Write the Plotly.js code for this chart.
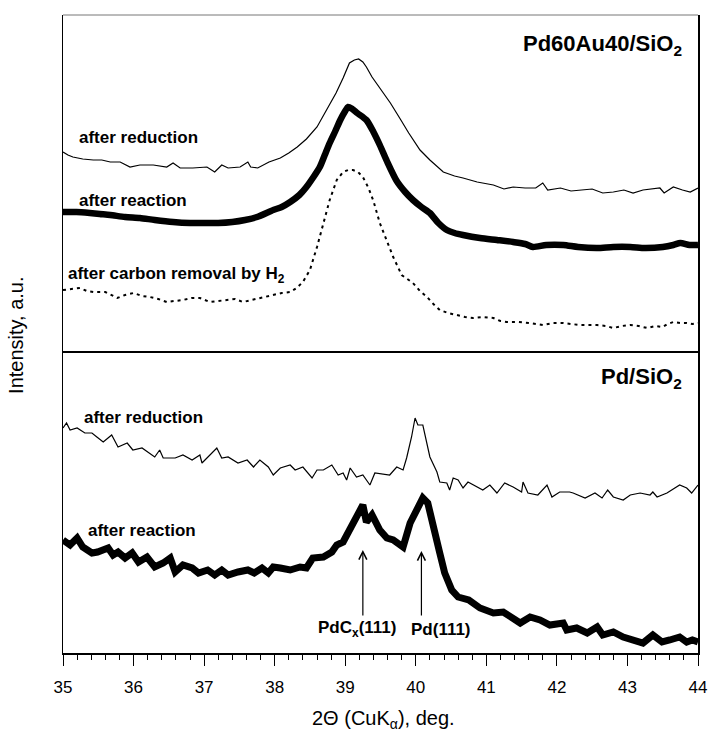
<!DOCTYPE html>
<html>
<head>
<meta charset="utf-8">
<script src="https://cdn.plot.ly/plotly-3.0.1.min.js"></script>
<style>html,body{margin:0;padding:0;background:#fff;}</style>
</head>
<body>
<div id="chart" style="width:710px;height:736px;"></div>
<script>
// ---- Pd60Au40/SiO2 panel (top) ----
const pdauReductionX = [35.00,35.07,35.14,35.28,35.43,35.55,35.67,35.81,35.95,36.09,36.28,36.47,36.56,36.66,36.84,37.04,37.15,37.25,37.34,37.51,37.62,37.66,37.76,37.92,38.08,38.20,38.32,38.45,38.60,38.74,38.87,38.97,39.06,39.13,39.19,39.25,39.30,39.38,39.50,39.64,39.78,39.90,40.06,40.20,40.39,40.55,40.67,40.87,41.10,41.25,41.38,41.55,41.70,41.80,41.87,42.05,42.20,42.33,42.50,42.65,42.80,42.95,43.08,43.22,43.35,43.46,43.52,43.65,43.78,43.89,44.00];
const pdauReductionY = [199,196,194,192,191,191,189,189,184,186,186,184,188,183,183,184,179,186,183,184,189,184,183,189,193,198,204,212,224,241,258,273,288,291,292,289,284,274,262,248,232,218,201,191,179,175,173,169,166,162,164,163,163,168,161,163,160,161,162,158,159,161,158,161,162,163,158,164,161,159,163];

const pdauReactionX = [35.00,35.19,35.38,35.52,35.67,35.88,36.09,36.30,36.56,36.80,37.04,37.20,37.40,37.58,37.75,37.98,38.10,38.22,38.35,38.45,38.55,38.64,38.71,38.78,38.86,38.93,39.00,39.04,39.10,39.17,39.30,39.40,39.49,39.59,39.73,39.85,39.96,40.08,40.20,40.32,40.44,40.55,40.67,40.91,41.15,41.38,41.55,41.66,41.85,42.09,42.30,42.57,42.80,43.04,43.25,43.50,43.65,43.75,43.88,44.00];
const pdauReactionY = [139,139,138,137,136,134,133,131,129,128,128,128,129,131,134,141,144,149,156,164,174,184,196,208,220,231,240,244,242,238,231,219,206,190,170,159,151,144,138,128,121,118,116,113,111,109,107,104,106,106,104,103,104,104,103,104,106,108,106,106];

const pdauCarbonRemovalX = [35.00,35.12,35.24,35.34,35.43,35.60,35.77,35.88,36.00,36.12,36.23,36.35,36.47,36.58,36.70,36.82,36.94,37.08,37.20,37.32,37.44,37.55,37.67,37.79,37.90,37.98,38.10,38.22,38.31,38.40,38.50,38.60,38.69,38.78,38.88,38.97,39.04,39.11,39.18,39.25,39.33,39.40,39.49,39.59,39.68,39.80,39.96,40.06,40.16,40.25,40.34,40.46,40.58,40.70,40.81,40.95,41.10,41.20,41.29,41.45,41.62,41.80,41.95,42.09,42.20,42.33,42.45,42.57,42.70,42.80,42.92,43.04,43.16,43.28,43.40,43.50,43.57,43.65,43.75,43.84,43.92,44.00];
const pdauCarbonRemovalY = [61,62,63,60,59,59,53,56,58,55,54,52,49,50,51,53,53,49,50,51,52,49,51,53,55,56,58,59,63,69,81,104,128,151,171,179,181,181,179,174,163,150,128,111,94,76,68,60,54,47,41,38,36,34,33,34,33,30,29,29,28,26,28,28,27,26,26,26,25,23,25,26,25,23,25,24,27,29,28,28,27,28];

// ---- Pd/SiO2 panel (bottom) ----
const pdReductionX = [35.00,35.05,35.10,35.20,35.31,35.41,35.48,35.57,35.69,35.78,35.91,35.99,36.12,36.30,36.37,36.42,36.59,36.70,36.83,36.94,36.97,37.08,37.18,37.25,37.34,37.48,37.61,37.70,37.79,37.91,37.98,38.08,38.22,38.29,38.40,38.53,38.60,38.69,38.81,38.90,38.97,39.02,39.07,39.16,39.25,39.35,39.42,39.63,39.73,39.82,39.87,39.94,39.99,40.03,40.10,40.20,40.30,40.34,40.44,40.48,40.53,40.60,40.67,40.74,40.87,40.95,41.05,41.15,41.26,41.38,41.50,41.52,41.59,41.73,41.86,41.93,42.04,42.18,42.23,42.40,42.54,42.64,42.72,42.80,42.94,43.04,43.18,43.32,43.36,43.42,43.56,43.74,43.84,43.91,44.00];
const pdReductionY = [225,230,223,225,220,220,216,211,218,206,210,203,205,196,203,195,195,198,193,198,190,198,205,195,196,190,193,186,193,186,178,185,188,183,186,175,183,183,188,178,180,173,185,176,178,168,180,178,186,183,195,216,235,228,228,196,181,171,170,163,175,173,165,171,166,163,168,160,170,166,161,171,160,158,168,156,161,161,160,155,160,155,163,156,153,158,160,158,161,156,160,168,165,160,168];

const pdReactionX = [35.00,35.10,35.20,35.28,35.41,35.49,35.64,35.71,35.78,35.88,35.98,36.07,36.19,36.30,36.42,36.52,36.59,36.70,36.83,36.92,37.05,37.15,37.25,37.34,37.48,37.62,37.71,37.82,37.91,37.98,38.08,38.22,38.36,38.45,38.54,38.69,38.81,38.88,38.97,39.07,39.16,39.25,39.30,39.38,39.49,39.59,39.68,39.82,39.92,40.02,40.10,40.17,40.24,40.34,40.41,40.51,40.60,40.75,40.91,41.10,41.24,41.38,41.48,41.62,41.76,41.90,42.09,42.14,42.28,42.43,42.57,42.65,42.80,42.94,43.08,43.22,43.36,43.49,43.60,43.74,43.84,43.92,44.00];
const pdReactionY = [113,108,115,106,100,101,105,98,101,95,100,91,96,86,90,95,81,88,85,80,83,78,83,78,81,83,80,85,80,86,85,83,86,85,95,96,101,108,111,123,135,148,131,138,123,115,113,106,130,143,155,150,126,100,80,63,56,53,45,40,41,35,30,36,33,28,30,23,25,20,26,18,21,16,13,10,18,11,13,16,11,13,11];

// ---- labels ----
const xTickValues = [35,36,37,38,39,40,41,42,43,44];
const xAxisTitle = "2Θ (CuK<sub>α</sub>), deg.";
const yAxisTitle = "Intensity, a.u.";
const topPanelName = "<b>Pd60Au40/SiO<sub>2</sub></b>";
const bottomPanelName = "<b>Pd/SiO<sub>2</sub></b>";
const peakLabels = ["<b>PdC<sub>x</sub>(111)</b>", "<b>Pd(111)</b>"];

const NARROW = "'Liberation Sans Narrow', 'Arial Narrow', 'Liberation Sans', Arial, sans-serif";
const SANS = "'Liberation Sans', Arial, sans-serif";

const traces = [
  {x: pdauReductionX, y: pdauReductionY, xaxis:'x2', yaxis:'y2', mode:'lines', line:{color:'#000', width:1.2}},
  {x: pdauReactionX, y: pdauReactionY, xaxis:'x2', yaxis:'y2', mode:'lines', line:{color:'#000', width:6.5, shape:'spline', smoothing:0.7}},
  {x: pdauCarbonRemovalX, y: pdauCarbonRemovalY, xaxis:'x2', yaxis:'y2', mode:'lines', line:{color:'#000', width:2, dash:'3px,4px'}},
  {x: pdReductionX, y: pdReductionY, xaxis:'x', yaxis:'y', mode:'lines', line:{color:'#000', width:1.2}},
  {x: pdReactionX, y: pdReactionY, xaxis:'x', yaxis:'y', mode:'lines', line:{color:'#000', width:7}}
];

const lblFont = {family: NARROW, size: 17, color:'#000'};
const annotations = [
  {xref:'x2', yref:'y2', x:35.2, y:214, text:'<b>after reduction</b>', showarrow:false, xanchor:'left', yanchor:'middle', font:lblFont},
  {xref:'x2', yref:'y2', x:35.2, y:151, text:'<b>after reaction</b>', showarrow:false, xanchor:'left', yanchor:'middle', font:lblFont},
  {xref:'x2', yref:'y2', x:35.04, y:76, text:'<b>after carbon removal by H<sub>2</sub></b>', showarrow:false, xanchor:'left', yanchor:'middle', font:lblFont},
  {xref:'x2', yref:'y2', x:43.8, y:306, text:topPanelName, showarrow:false, xanchor:'right', yanchor:'middle', font:{family:NARROW, size:22, color:'#000'}},
  {xref:'x', yref:'y', x:43.8, y:275, text:bottomPanelName, showarrow:false, xanchor:'right', yanchor:'middle', font:{family:NARROW, size:22, color:'#000'}},
  {xref:'x', yref:'y', x:35.27, y:236, text:'<b>after reduction</b>', showarrow:false, xanchor:'left', yanchor:'middle', font:lblFont},
  {xref:'x', yref:'y', x:35.33, y:123, text:'<b>after reaction</b>', showarrow:false, xanchor:'left', yanchor:'middle', font:lblFont},
  {xref:'x', yref:'y', x:39.17, y:24, text:peakLabels[0], showarrow:false, xanchor:'center', yanchor:'middle', font:lblFont},
  {xref:'x', yref:'y', x:40.36, y:24, text:peakLabels[1], showarrow:false, xanchor:'center', yanchor:'middle', font:lblFont},
  {xref:'x', yref:'y', x:39.25, y:103, axref:'x', ayref:'y', ax:39.25, ay:36, text:'', showarrow:true, arrowhead:5, arrowsize:1.3, arrowwidth:1.2, arrowcolor:'#000'},
  {xref:'x', yref:'y', x:40.08, y:102, axref:'x', ayref:'y', ax:40.08, ay:36, text:'', showarrow:true, arrowhead:5, arrowsize:1.3, arrowwidth:1.2, arrowcolor:'#000'},
  {xref:'paper', yref:'paper', x:-0.074, y:0.497, text:yAxisTitle, textangle:-90, showarrow:false, xanchor:'center', yanchor:'middle', font:{family:SANS, size:20, color:'#000'}},
  {xref:'paper', yref:'paper', x:0.505, y:-0.105, text:xAxisTitle, showarrow:false, xanchor:'center', yanchor:'middle', font:{family:SANS, size:20, color:'#000'}}
];

const split = 302/638;
const layout = {
  width:710, height:736,
  margin:{l:63, r:12, t:15, b:83, pad:0},
  paper_bgcolor:'#fff', plot_bgcolor:'#fff',
  showlegend:false,
  xaxis:{range:[35,44], domain:[0,1], anchor:'y', showline:true, linecolor:'#000', linewidth:1.5,
    ticks:'outside', ticklen:11, tickwidth:1, tickcolor:'#000', tickvals:xTickValues, ticktext:xTickValues.map(String),
    tickfont:{family:NARROW, size:17, color:'#000'}, ticklabelstandoff:7,
    minor:{dtick:0.2, tick0:35, ticks:'outside', ticklen:5, tickwidth:1, tickcolor:'#000'},
    showgrid:false, zeroline:false},
  xaxis2:{range:[35,44], domain:[0,1], anchor:'y2', matches:'x', showticklabels:false, showline:true, linecolor:'#000', linewidth:2,
    ticks:'', showgrid:false, zeroline:false},
  yaxis:{domain:[0, split], range:[0,302], showline:true, mirror:true, linecolor:'#000', linewidth:1.5,
    showticklabels:false, ticks:'', showgrid:false, zeroline:false},
  yaxis2:{domain:[split, 1], range:[0,336], showline:true, mirror:true, linecolor:'#000', linewidth:1.5,
    showticklabels:false, ticks:'', showgrid:false, zeroline:false},
  shapes:[
    {type:'line', xref:'paper', yref:'paper', x0:0, x1:1, y0:1, y1:1, line:{color:'#777', width:1}}
  ],
  annotations: annotations
};

Plotly.newPlot('chart', traces, layout, {staticPlot:true, displayModeBar:false});
</script>
</body>
</html>
